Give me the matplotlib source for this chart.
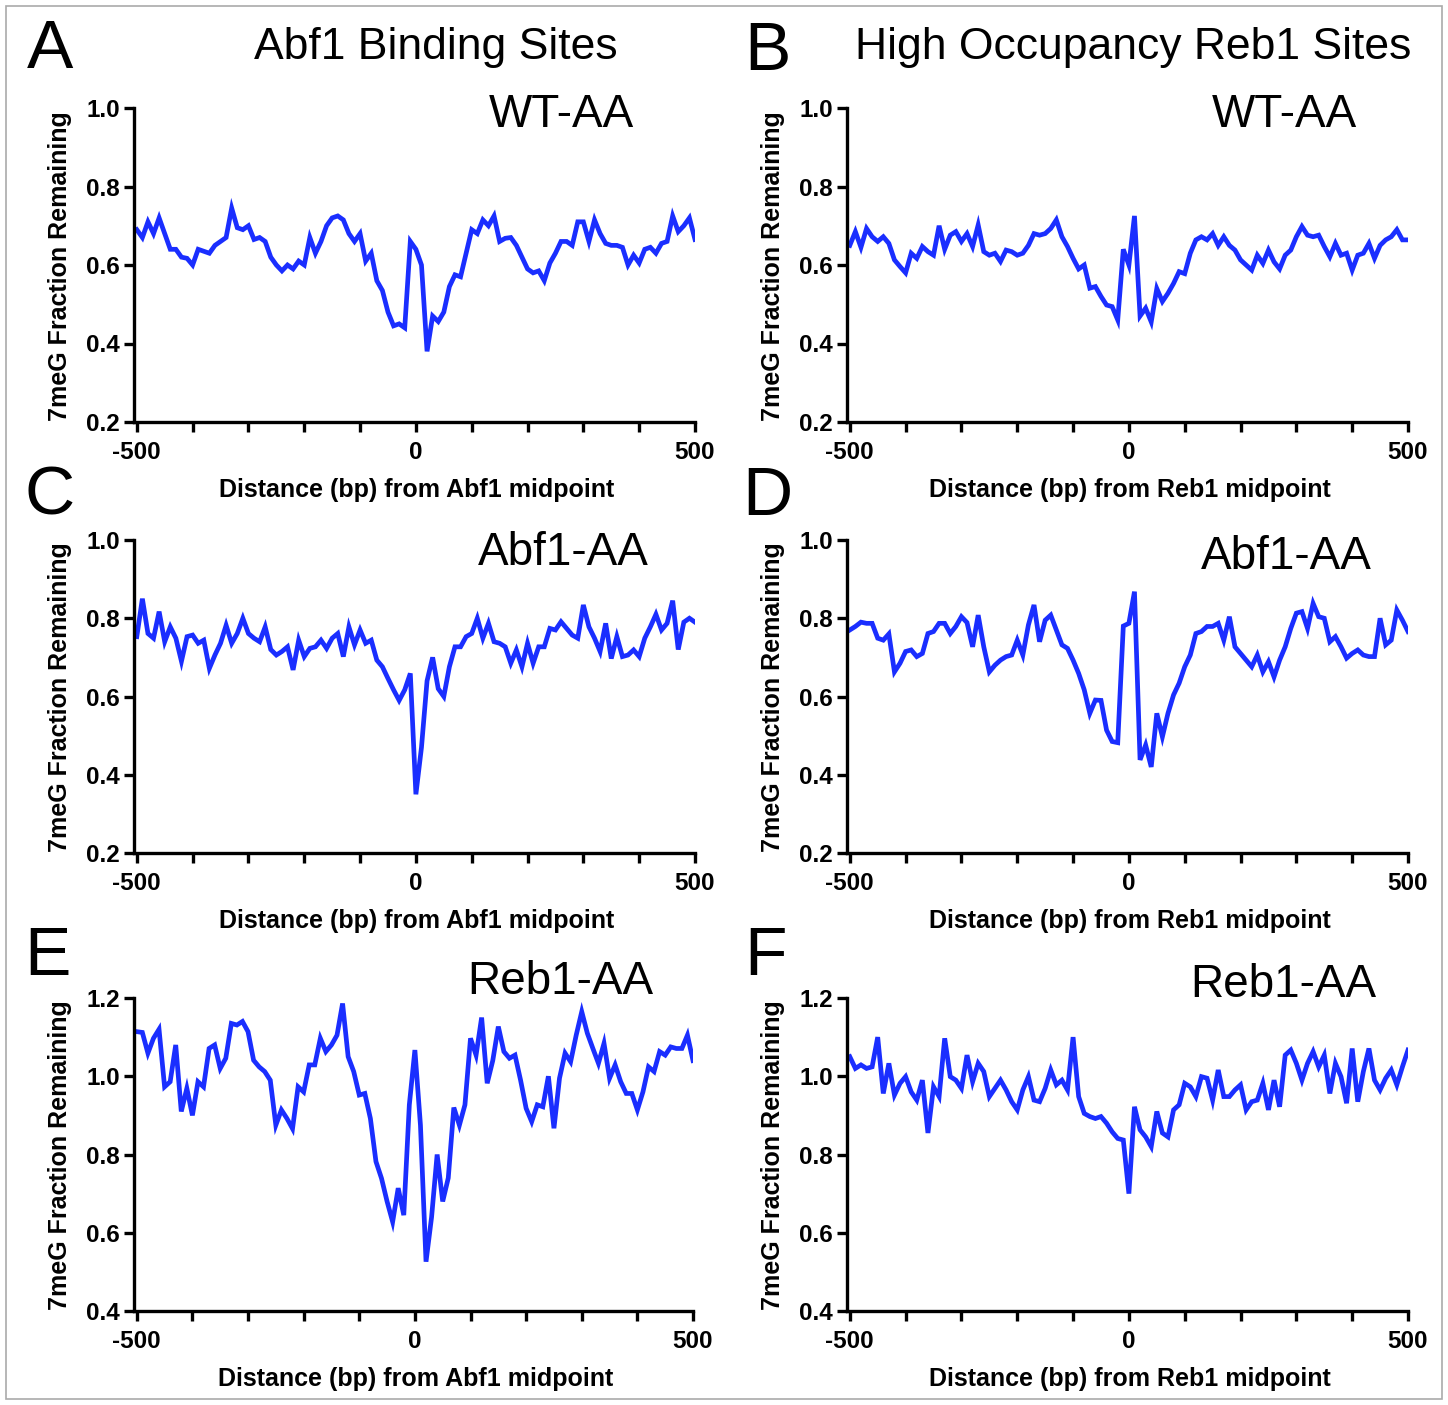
import numpy as np
import matplotlib
matplotlib.use("Agg")
import matplotlib.pyplot as plt
from matplotlib.patches import Rectangle

plt.rcParams['font.family'] = ['Liberation Sans', 'DejaVu Sans']
plt.rcParams['axes.unicode_minus'] = False

# distance from site midpoint (bp)
positions = np.arange(-500, 501, 10)

# 7meG fraction remaining
abf1_wt = [0.69, 0.67, 0.71, 0.68, 0.72, 0.68, 0.64, 0.64, 0.62, 0.617,
           0.60, 0.64, 0.635, 0.63, 0.65, 0.66, 0.67, 0.745, 0.695, 0.69,
           0.70, 0.665, 0.67, 0.66, 0.62, 0.60, 0.585, 0.60, 0.59, 0.61,
           0.60, 0.67, 0.63, 0.66, 0.70, 0.72, 0.725, 0.715, 0.68, 0.66,
           0.68, 0.61, 0.63, 0.56, 0.535, 0.48, 0.445, 0.45, 0.44, 0.66,
           0.64, 0.60, 0.38, 0.47, 0.456, 0.48, 0.545, 0.575, 0.57, 0.63,
           0.69, 0.68, 0.715, 0.70, 0.725, 0.66, 0.668, 0.67, 0.65, 0.62,
           0.59, 0.58, 0.585, 0.56, 0.605, 0.63, 0.66, 0.66, 0.65, 0.71,
           0.71, 0.66, 0.715, 0.68, 0.655, 0.65, 0.65, 0.645, 0.60, 0.625,
           0.605, 0.64, 0.645, 0.63, 0.655, 0.66, 0.725, 0.685, 0.70, 0.72,
           0.665]

reb1_wt = [0.65, 0.685, 0.645, 0.693, 0.672, 0.66, 0.672, 0.655, 0.613, 0.596,
           0.58, 0.63, 0.617, 0.647, 0.634, 0.625, 0.70, 0.64, 0.676, 0.685,
           0.66, 0.68, 0.647, 0.702, 0.634, 0.625, 0.63, 0.609, 0.638, 0.634,
           0.625, 0.63, 0.65, 0.68, 0.676, 0.68, 0.693, 0.715, 0.672, 0.647,
           0.617, 0.59, 0.60, 0.541, 0.545, 0.52, 0.498, 0.494, 0.46, 0.64,
           0.60, 0.725, 0.47, 0.49, 0.455, 0.54, 0.507, 0.528, 0.553, 0.583,
           0.578, 0.63, 0.664, 0.672, 0.664, 0.68, 0.65, 0.672, 0.65, 0.638,
           0.613, 0.60, 0.587, 0.625, 0.604, 0.638, 0.608, 0.59, 0.625, 0.638,
           0.672, 0.698, 0.676, 0.672, 0.676, 0.647, 0.621, 0.655, 0.625, 0.63,
           0.587, 0.625, 0.63, 0.655, 0.617, 0.65, 0.664, 0.672, 0.69, 0.664,
           0.664]

abf1_abf1aa = [0.753, 0.85, 0.761, 0.749, 0.817, 0.74, 0.778, 0.749, 0.69, 0.753,
               0.757, 0.736, 0.744, 0.672, 0.706, 0.736, 0.782, 0.736, 0.761, 0.80,
               0.761, 0.749, 0.74, 0.778, 0.72, 0.706, 0.715, 0.727, 0.668, 0.744,
               0.702, 0.723, 0.727, 0.744, 0.723, 0.749, 0.761, 0.702, 0.778, 0.732,
               0.77, 0.736, 0.744, 0.693, 0.676, 0.646, 0.617, 0.59, 0.617, 0.659,
               0.35, 0.47, 0.64, 0.70, 0.62, 0.60, 0.676, 0.727, 0.727, 0.753,
               0.761, 0.80, 0.749, 0.787, 0.74, 0.736, 0.727, 0.685, 0.719, 0.676,
               0.736, 0.685, 0.727, 0.727, 0.774, 0.77, 0.791, 0.774, 0.757, 0.749,
               0.834, 0.778, 0.749, 0.715, 0.787, 0.697, 0.753, 0.702, 0.706, 0.719,
               0.702, 0.749, 0.778, 0.81, 0.77, 0.787, 0.845, 0.72, 0.79, 0.80,
               0.79]

reb1_abf1aa = [0.77, 0.779, 0.79, 0.787, 0.787, 0.749, 0.744, 0.76, 0.663, 0.685,
               0.715, 0.719, 0.702, 0.71, 0.761, 0.766, 0.787, 0.787, 0.761, 0.779,
               0.804, 0.789, 0.727, 0.808, 0.727, 0.663, 0.68, 0.693, 0.702, 0.706,
               0.744, 0.706, 0.783, 0.834, 0.74, 0.795, 0.808, 0.77, 0.732, 0.723,
               0.693, 0.659, 0.617, 0.557, 0.591, 0.59, 0.514, 0.485, 0.482, 0.78,
               0.787, 0.868, 0.438, 0.476, 0.42, 0.557, 0.497, 0.557, 0.604, 0.634,
               0.676, 0.706, 0.761, 0.766, 0.779, 0.779, 0.787, 0.744, 0.804, 0.727,
               0.71, 0.693, 0.676, 0.706, 0.663, 0.689, 0.65, 0.693, 0.727, 0.774,
               0.813, 0.817, 0.774, 0.838, 0.804, 0.80, 0.74, 0.753, 0.727, 0.698,
               0.71, 0.719, 0.706, 0.702, 0.702, 0.80, 0.732, 0.744, 0.821, 0.795,
               0.766]

abf1_reb1aa = [1.114, 1.112, 1.059, 1.097, 1.12, 0.973, 0.986, 1.08, 0.91, 0.969,
               0.90, 0.986, 0.973, 1.071, 1.08, 1.02, 1.046, 1.135, 1.131, 1.14,
               1.114, 1.041, 1.024, 1.012, 0.99, 0.875, 0.914, 0.892, 0.866, 0.973,
               0.96, 1.029, 1.029, 1.097, 1.063, 1.08, 1.105, 1.186, 1.05, 1.012,
               0.952, 0.956, 0.892, 0.782, 0.739, 0.68, 0.628, 0.714, 0.645, 0.927,
               1.067, 0.875, 0.526, 0.64, 0.80, 0.68, 0.74, 0.92, 0.875, 0.927,
               1.097, 1.054, 1.15, 0.982, 1.04, 1.127, 1.063, 1.046, 1.054, 0.99,
               0.918, 0.884, 0.927, 0.922, 1.0, 0.867, 0.995, 1.059, 1.037, 1.105,
               1.165, 1.11, 1.071, 1.033, 1.084, 0.995, 1.029, 0.986, 0.956, 0.956,
               0.914, 0.96, 1.024, 1.012, 1.063, 1.054, 1.075, 1.071, 1.071, 1.105,
               1.04]

reb1_reb1aa = [1.05, 1.02, 1.029, 1.02, 1.024, 1.10, 0.956, 1.033, 0.952, 0.982,
               0.999, 0.96, 0.939, 0.99, 0.855, 0.973, 0.948, 1.097, 0.999, 0.99,
               0.969, 1.054, 0.986, 1.033, 1.012, 0.948, 0.969, 0.99, 0.965, 0.935,
               0.914, 0.965, 0.999, 0.939, 0.935, 0.969, 1.016, 0.978, 0.99, 0.965,
               1.10, 0.948, 0.905, 0.897, 0.892, 0.897, 0.88, 0.858, 0.841, 0.837,
               0.70, 0.922, 0.863, 0.845, 0.82, 0.91, 0.855, 0.845, 0.914, 0.927,
               0.982, 0.973, 0.948, 0.999, 0.995, 0.939, 1.016, 0.948, 0.948, 0.965,
               0.978, 0.914, 0.935, 0.939, 0.982, 0.914, 0.99, 0.922, 1.054, 1.067,
               1.033, 0.99, 1.033, 1.063, 1.024, 1.054, 0.956, 1.033, 0.999, 0.931,
               1.071, 0.935, 1.012, 1.071, 0.99, 0.965, 0.995, 1.016, 0.978, 1.024,
               1.067]

letters = ['A', 'B', 'C', 'D', 'E', 'F']
strains = ['WT-AA', 'WT-AA', 'Abf1-AA', 'Abf1-AA', 'Reb1-AA', 'Reb1-AA']
sites = ['Abf1', 'Reb1', 'Abf1', 'Reb1', 'Abf1', 'Reb1']
series = [abf1_wt, reb1_wt, abf1_abf1aa, reb1_abf1aa, abf1_reb1aa, reb1_reb1aa]
column_titles = ['Abf1 Binding Sites', 'High Occupancy Reb1 Sites']

W, H = 1448, 1405
fig = plt.figure(figsize=(W / 100, H / 100), dpi=100)
fig.patch.set_facecolor('white')
fig.add_artist(Rectangle((6 / W, 6 / H), 1 - 12 / W, 1 - 12 / H, transform=fig.transFigure,
                         fill=False, edgecolor='#aaaaaa', lw=1.2))

LINE = '#1a2eff'
# axes boxes in pixels: left, right, top, bottom
boxes = [(134, 695, 108, 422), (847, 1408, 108, 422),
         (134, 695, 540, 853), (847, 1408, 540, 853),
         (134, 693, 998, 1311), (847, 1408, 998, 1311)]
ylims = [(0.2, 1.0)] * 4 + [(0.4, 1.2)] * 2
letter_xy = [(50, 50), (767, 52), (50, 497), (767, 497), (47, 957), (765, 957)]
strain_xy = [(561, 115), (1284, 115), (563, 553), (1286, 557), (560, 982), (1283, 985)]


def fx(px):
    return px / W


def fy(py):
    return 1 - py / H


for i in range(6):
    l, r, t, b = boxes[i]
    ax = fig.add_axes([fx(l), fy(b), (r - l) / W, (b - t) / H])
    ax.plot(positions, series[i], color=LINE, lw=3.4, solid_joinstyle='miter')
    ax.set_xlim(-505, 500)
    lo, hi = ylims[i]
    ax.set_ylim(lo, hi)
    ax.set_xticks([-500, 0, 500])
    ax.set_xticks(np.arange(-500, 501, 100), minor=True)
    ax.set_yticks(np.round(np.arange(lo, hi + 0.01, 0.2), 1))
    ax.yaxis.set_major_formatter(matplotlib.ticker.FormatStrFormatter('%.1f'))
    for s in ['top', 'right']:
        ax.spines[s].set_visible(False)
    for s in ['left', 'bottom']:
        ax.spines[s].set_linewidth(2.4)
    ax.tick_params(axis='both', which='both', direction='out', width=2.4, length=7)
    ax.tick_params(axis='x', which='major', pad=7, labelsize=17.5)
    ax.tick_params(axis='y', which='major', pad=3, labelsize=17.5)
    for lab in ax.get_xticklabels() + ax.get_yticklabels():
        lab.set_fontweight('bold')

    cx = (l + r) / 2
    fig.text(fx(cx + 2), fy(b + 68), f'Distance (bp) from {sites[i]} midpoint',
             ha='center', va='center', fontsize=18, fontweight='bold')
    fig.text(fx(l - 74), fy((t + b) / 2 + 1), '7meG Fraction Remaining', rotation=90,
             ha='center', va='center', fontsize=18, fontweight='bold')
    fig.text(fx(letter_xy[i][0]), fy(letter_xy[i][1]), letters[i],
             ha='center', va='center', fontsize=50)
    fig.text(fx(strain_xy[i][0]), fy(strain_xy[i][1]), strains[i],
             ha='center', va='center', fontsize=33)

fig.text(fx(436), fy(48), column_titles[0], ha='center', va='center', fontsize=32)
fig.text(fx(1133), fy(48), column_titles[1], ha='center', va='center', fontsize=32)

fig.savefig('out.png', dpi=100, facecolor='white')
